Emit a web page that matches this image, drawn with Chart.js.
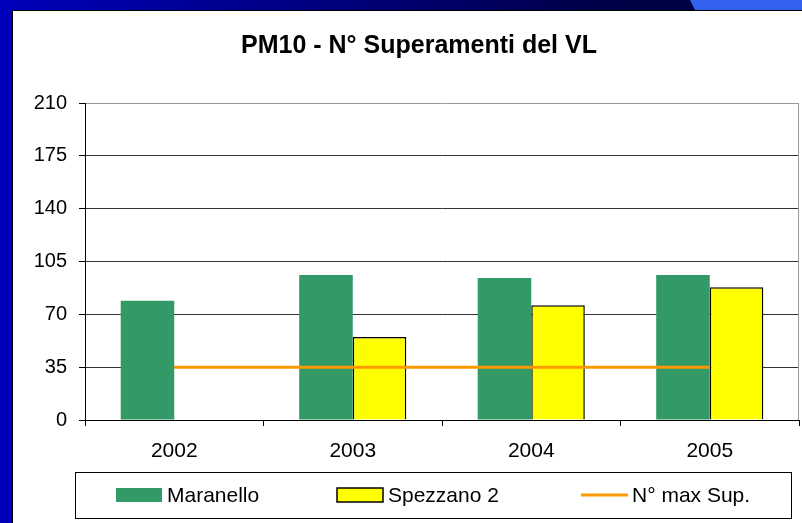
<!DOCTYPE html>
<html>
<head>
<meta charset="utf-8">
<script src="https://cdn.jsdelivr.net/npm/chart.js@4.4.1/dist/chart.umd.min.js"></script>
<style>
  body { margin: 0; width: 802px; height: 523px; background: #0000BB; position: relative; overflow: hidden; }
  .strip { position: absolute; left: 0; top: 0; width: 802px; height: 10px;
           background: linear-gradient(to right, #0000BB 0px, #000070 400px, #000048 600px, #000040 802px); }
  .light { position: absolute; left: 0; top: 0; width: 802px; height: 10px; background: #3363EE;
           clip-path: polygon(690px 0, 802px 0, 802px 10px, 695px 10px); }
  .frame { position: absolute; left: 12px; top: 10px; width: 790px; height: 513px; background: #fff;
           border-left: 1px solid #000; border-top: 1px solid #000; box-sizing: border-box; }
  .wrap { position: absolute; left: 0; top: 0; width: 789px; height: 512px; }
</style>
</head>
<body>
<div class="strip"></div>
<div class="light"></div>
<div class="frame"><div class="wrap"><canvas id="myChart"></canvas></div></div>
<script>
const years = ['2002', '2003', '2004', '2005'];
const maranello = [79, 96, 94, 96];
const spezzano = [null, 55, 76, 88];
const maxSup = [35, 35, 35, 35];
const yTicks = [0, 35, 70, 105, 140, 175, 210];

const FONT = "'Liberation Sans', Arial, sans-serif";

const data = {
    labels: years,
    datasets: [{
        type: 'line',
        label: 'N° max Sup.',
        data: maxSup,
        borderColor: '#FF9900',
        backgroundColor: '#FF9900',
        borderWidth: 3,
        pointRadius: 0,
        order: 0,
    }, {
        label: 'Maranello',
        data: maranello,
        backgroundColor: '#339966',
        borderWidth: 0,
        categoryPercentage: 0.6,
        barPercentage: 1,
        order: 1,
    }, {
        label: 'Spezzano 2',
        data: spezzano,
        backgroundColor: '#FFFF00',
        borderColor: '#000000',
        borderWidth: 1.5,
        categoryPercentage: 0.6,
        barPercentage: 1,
        order: 1,
    }],
};

// legend box drawn by hand, like the Excel one
const legendBox = {
    id: 'legendBox',
    afterLayout(chart) {
        // title sits a bit right of the canvas centre in the original
        if (chart.titleBlock) chart.titleBlock.left += 26;
    },
    afterDraw(chart) {
        const c = chart.ctx;
        c.save();
        c.strokeStyle = '#000';
        c.lineWidth = 1;
        c.strokeRect(62.5, 461.5, 716, 46);
        const order = [1, 2, 0];
        const swatchX = [103, 324, 568];
        c.font = '21px ' + FONT;
        c.textBaseline = 'middle';
        c.fillStyle = '#000';
        order.forEach((di, i) => {
            const ds = chart.data.datasets[di];
            const x = swatchX[i];
            if (ds.type === 'line') {
                c.strokeStyle = ds.borderColor;
                c.lineWidth = 3;
                c.beginPath();
                c.moveTo(x, 484);
                c.lineTo(x + 47, 484);
                c.stroke();
            } else {
                c.fillStyle = ds.backgroundColor;
                c.fillRect(x, 477, 46, 14);
                if (ds.borderWidth) {
                    c.strokeStyle = ds.borderColor;
                    c.lineWidth = 1.5;
                    c.strokeRect(x, 477, 46, 14);
                }
            }
            c.fillStyle = '#000';
            c.fillText(ds.label, x + 51, 485);
        });
        // plot area right border
        const a = chart.chartArea;
        c.strokeStyle = '#999';
        c.lineWidth = 1;
        c.beginPath();
        c.moveTo(a.right - 0.5, a.top);
        c.lineTo(a.right - 0.5, a.bottom);
        c.stroke();
        c.restore();
    },
};

const config = {
    type: 'bar',
    data: data,
    plugins: [legendBox],
    options: {
        responsive: true,
        maintainAspectRatio: false,
        animation: false,
        layout: { padding: { left: 0, right: 3, top: 0, bottom: 0 } },
        plugins: {
            legend: { display: false },
            tooltip: { enabled: false },
            title: {
                display: true,
                text: 'PM10 - N° Superamenti del VL',
                color: '#000',
                font: { family: FONT, size: 25, weight: 'bold', lineHeight: 1.2 },
                padding: { top: 20, bottom: 42 },
            },
        },
        scales: {
            x: {
                offset: true,
                grid: { display: true, drawOnChartArea: false, offset: true, tickLength: 6, color: '#000' },
                border: { color: '#000', width: 1 },
                ticks: { color: '#000', padding: 13, font: { family: FONT, size: 21 } },
                afterFit: s => { s.height = 103; },
            },
            y: {
                min: 0,
                max: 210,
                afterBuildTicks: s => { s.ticks = yTicks.map(v => ({ value: v })); },
                grid: {
                    color: ctx => (ctx.tick && ctx.tick.value === 210 ? '#999' : '#333'),
                    tickColor: '#000',
                    tickLength: 6,
                },
                border: { color: '#000', width: 1 },
                ticks: { color: '#000', padding: 12, font: { family: FONT, size: 20 } },
                afterFit: s => { s.width = 72; },
            },
        },
    },
};

const ctx = document.getElementById('myChart').getContext('2d');
const myChart = new Chart(ctx, config);
</script>
</body>
</html>
